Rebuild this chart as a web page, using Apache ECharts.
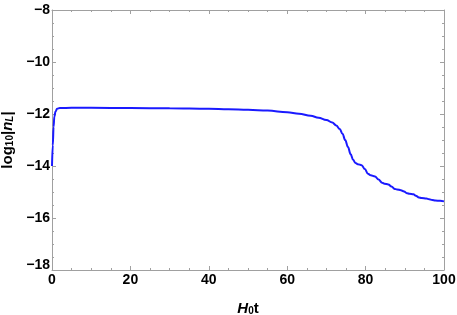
<!DOCTYPE html>
<html><head><meta charset="utf-8">
<script src="https://cdn.jsdelivr.net/npm/echarts@6/dist/echarts.min.js"></script>
<style>html,body{margin:0;padding:0;background:#fff}#c{width:457px;height:315px}</style>
</head><body><div id="c"></div>
<script>
const tValues = [0,0.2,0.4,0.6,0.9,1.3,2,5,10,20,30,40,45,50,55,60,63,66,68,70,71.5,72.5,73.4,74.1,74.8,75.5,76.2,76.8,77.4,78.0,79.0,79.8,80.6,81.3,82.4,83.3,84.2,84.8,85.8,86.6,87.4,88.0,89.0,89.8,90.6,91.2,92.2,92.8,93.6,94.3,95.5,96.2,97.0,97.8,99.0,100];
const logNL = [-14.0,-13.2,-12.5,-12.1,-11.9,-11.8,-11.77,-11.76,-11.76,-11.77,-11.78,-11.80,-11.82,-11.84,-11.87,-11.93,-11.99,-12.07,-12.14,-12.23,-12.33,-12.44,-12.58,-12.76,-13.0,-13.27,-13.55,-13.76,-13.88,-13.93,-13.97,-14.12,-14.3,-14.36,-14.40,-14.52,-14.64,-14.68,-14.71,-14.79,-14.88,-14.90,-14.93,-14.98,-15.05,-15.07,-15.09,-15.14,-15.21,-15.23,-15.25,-15.28,-15.31,-15.33,-15.34,-15.36];
const xTicks = [0,20,40,60,80,100];
const yTicks = [-18,-16,-14,-12,-10,-8];

const data = tValues.map((t,i)=>[t,logNL[i]]);
const frame = '#a0a0a0';
const font = 'Liberation Sans, Arial, sans-serif';
const lbl = {color:'#000', fontFamily:font, fontWeight:'bold', fontSize:14};
const chart = echarts.init(document.getElementById('c'), null, {renderer:'canvas'});
const baseAxis = {
  axisLine:{show:true, onZero:false, lineStyle:{color:frame, width:1}},
  axisTick:{show:true, inside:true, length:4, lineStyle:{color:frame}},
  minorTick:{show:true, splitNumber:4, length:2, lineStyle:{color:frame}},
  splitLine:{show:false}
};
chart.setOption({
  animation:false,
  grid:{left:52, right:13, top:10, bottom:45, containLabel:false, outerBoundsMode:'none'},
  xAxis:[
    Object.assign({}, baseAxis, {type:'value', min:xTicks[0], max:xTicks[xTicks.length-1], interval:20, position:'bottom',
      axisLabel:Object.assign({}, lbl, {margin:3, formatter:v=>String(v)}),
      name:'{hi|H}{sub|0}{b|t}', nameLocation:'middle', nameGap:28,
      nameTextStyle:{rich:{
        hi:{fontFamily:font, fontWeight:'bold', fontStyle:'italic', fontSize:15, color:'#000', lineHeight:18, verticalAlign:'bottom'},
        sub:{fontFamily:font, fontWeight:'bold', fontSize:10, color:'#000', lineHeight:18, verticalAlign:'bottom', padding:[6,0,0,0]},
        b:{fontFamily:font, fontWeight:'bold', fontSize:15, color:'#000', lineHeight:18, verticalAlign:'bottom'}
      }}
    }),
    Object.assign({}, baseAxis, {type:'value', min:0, max:100, interval:20, position:'top', axisLabel:{show:false}})
  ],
  yAxis:[
    Object.assign({}, baseAxis, {type:'value', min:yTicks[0], max:yTicks[yTicks.length-1], interval:2, position:'left',
      axisLabel:Object.assign({}, lbl, {margin:2, formatter:v=> v===-18 ? '{up|' + String(v).replace('-','\u2212') + '}' : String(v).replace('-','\u2212'),
        rich:{up:Object.assign({}, lbl, {padding:[0,0,10,0]})}}),
      name:'{b|log}{sub|10}{b||}{i|n}{isub|L}{b||}', nameLocation:'middle', nameGap:36, nameRotate:90,
      nameTextStyle:{rich:{
        b:{fontFamily:font, fontWeight:'bold', fontSize:15, color:'#000', lineHeight:18, verticalAlign:'bottom'},
        sub:{fontFamily:font, fontWeight:'bold', fontSize:10, color:'#000', lineHeight:18, verticalAlign:'bottom', padding:[6,0,0,0]},
        i:{fontFamily:font, fontWeight:'bold', fontStyle:'italic', fontSize:15, color:'#000', lineHeight:18, verticalAlign:'bottom'},
        isub:{fontFamily:font, fontWeight:'bold', fontStyle:'italic', fontSize:10, color:'#000', lineHeight:18, verticalAlign:'bottom', padding:[6,0,0,0]}
      }}
    }),
    Object.assign({}, baseAxis, {type:'value', min:-18, max:-8, interval:2, position:'right', axisLabel:{show:false}})
  ],
  series:[{
    type:'line', data:data, showSymbol:false, smooth:0.4, smoothMonotone:'x',
    lineStyle:{color:'#1a1aff', width:2}, clip:true
  }]
});
</script></body></html>
